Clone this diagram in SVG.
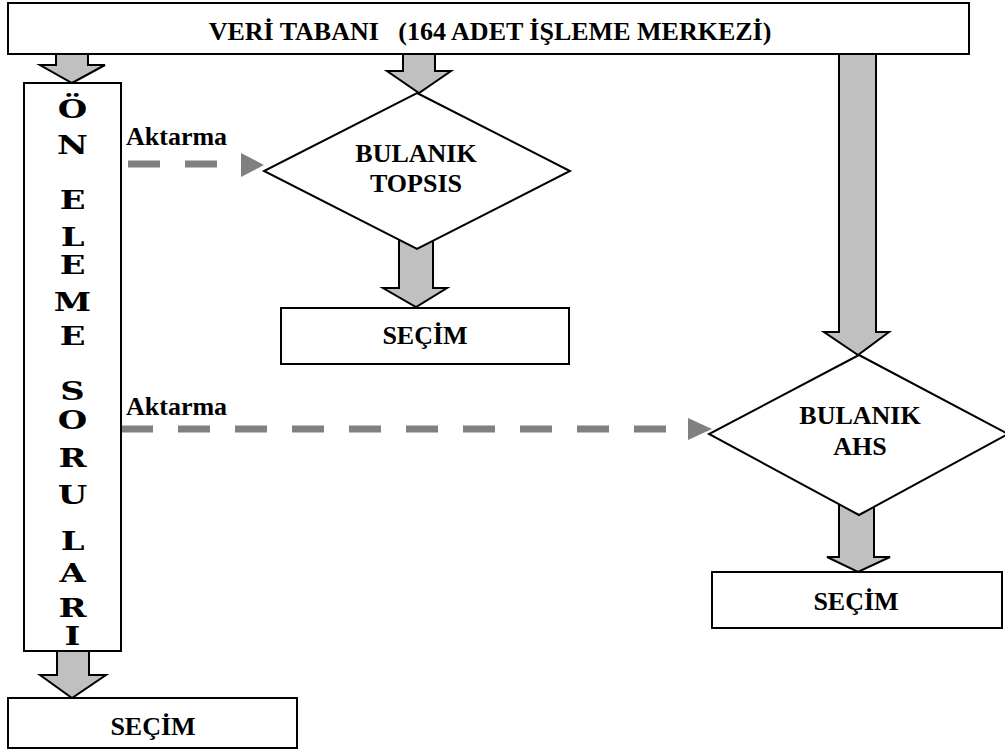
<svg xmlns="http://www.w3.org/2000/svg" width="1005" height="752" viewBox="0 0 1005 752">
<style>
.box{fill:#fff;stroke:#000;stroke-width:2}
.blk{fill:#c0c0c0;stroke:#000;stroke-width:2;stroke-linejoin:miter}
.dash{fill:none;stroke:#808080;stroke-width:7;stroke-dasharray:32 25}
.ah{fill:#808080}
.t{font-family:"Liberation Serif","Times New Roman",serif;font-weight:bold;font-size:26px;fill:#000;text-anchor:middle}
.col{font-family:"DejaVu Serif",serif;font-weight:bold;font-size:26px;fill:#000;text-anchor:middle}
.lbl{font-family:"Liberation Serif","Times New Roman",serif;font-weight:bold;font-size:26px;fill:#000}
</style>
<rect width="1005" height="752" fill="#fff"/>
<g id="connectors">
  <polygon class="blk" points="56,50 88,50 88,65 105,65 72,83 40,65 56,65"/>
  <polygon class="blk" points="403,50 435,50 435,71 451,71 419,93 387,71 403,71"/>
  <polygon class="blk" points="399,230 433,230 433,288 447,288 416,307 383,288 399,288"/>
  <polygon class="blk" points="839,50 876,50 876,332 889,332 858,355 824,332 839,332"/>
  <polygon class="blk" points="839,495 874,495 874,557 890,557 858,572 827,557 839,557"/>
  <polygon class="blk" points="57,645 89,645 89,675 106,675 72,698 40,675 57,675"/>
  <line class="dash" x1="128" y1="164" x2="238" y2="164"/>
  <polygon class="ah" points="241,153 264,165 241,177"/>
  <line class="dash" x1="121" y1="429" x2="686" y2="429"/>
  <polygon class="ah" points="688,418 712,429 688,440"/>
  <text class="lbl" x="126" y="145">Aktarma</text>
  <text class="lbl" x="126" y="415">Aktarma</text>
</g>
<g id="veri-tabani">
  <rect class="box" x="8" y="3" width="961" height="51"/>
  <text class="t" x="490" y="40" font-size="27.8" xml:space="preserve">VERİ TABANI   (164 ADET İŞLEME MERKEZİ)</text>
</g>
<g id="on-eleme">
  <rect class="box" x="24" y="83" width="97" height="568"/>
  <g transform="translate(72.5,0) scale(1.3,1)">
  <text class="col" x="0" y="117.7">Ö</text>
  <text class="col" x="0" y="154">N</text>
  <text class="col" x="0" y="209.3">E</text>
  <text class="col" x="0" y="245.7">L</text>
  <text class="col" x="0" y="274">E</text>
  <text class="col" x="0" y="310.7">M</text>
  <text class="col" x="0" y="345">E</text>
  <text class="col" x="0" y="400">S</text>
  <text class="col" x="0" y="429.5">O</text>
  <text class="col" x="0" y="467.3">R</text>
  <text class="col" x="0" y="504">U</text>
  <text class="col" x="0" y="550">L</text>
  <text class="col" x="0" y="582.3">A</text>
  <text class="col" x="0" y="617.3">R</text>
  <text class="col" x="0" y="645">I</text>
  </g>
</g>
<g id="bulanik-topsis">
  <polygon class="box" points="417,93 570,171 417,249 264,171"/>
  <text class="t" x="416" y="162">BULANIK</text>
  <text class="t" x="416" y="192">TOPSIS</text>
</g>
<g id="secim-topsis">
  <rect class="box" x="281" y="308" width="288" height="56"/>
  <text class="t" x="425" y="344">SEÇİM</text>
</g>
<g id="bulanik-ahs">
  <polygon class="box" points="859,355 1008,434 859,515 709,434"/>
  <text class="t" x="860" y="424">BULANIK</text>
  <text class="t" x="860" y="455">AHS</text>
</g>
<g id="secim-ahs">
  <rect class="box" x="712" y="572" width="290" height="56"/>
  <text class="t" x="856" y="610">SEÇİM</text>
</g>
<g id="secim-on-eleme">
  <rect class="box" x="8" y="698" width="289" height="50"/>
  <text class="t" x="153" y="735">SEÇİM</text>
</g>
</svg>
